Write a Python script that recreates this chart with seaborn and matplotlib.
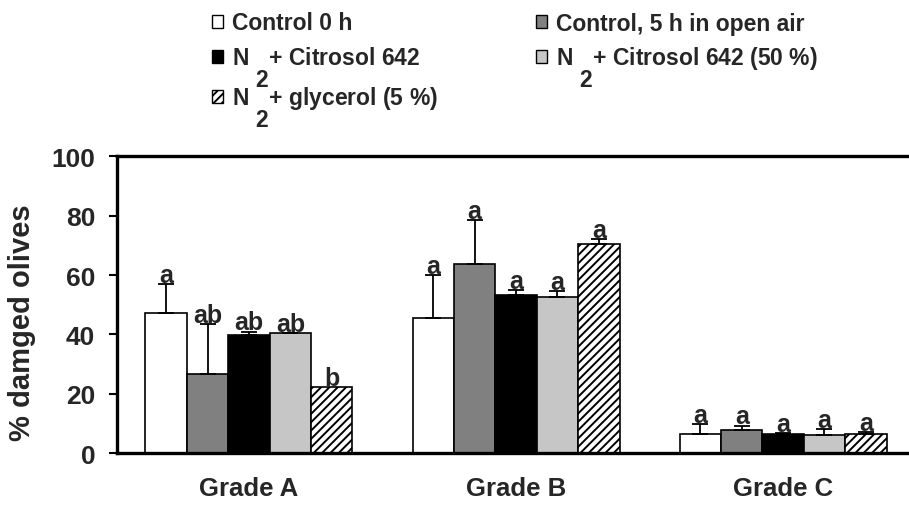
import matplotlib
matplotlib.use("Agg")
import matplotlib.pyplot as plt
import matplotlib.patches as mpatches
import seaborn as sns
import pandas as pd
import numpy as np

# ---- data ----
grades = ["Grade A", "Grade B", "Grade C"]
treatments = ["Control 0 h", "Control, 5 h in open air", "N2+ Citrosol 642",
              "N2+ Citrosol 642 (50 %)", "N2+ glycerol (5 %)"]
legend_labels = ["Control 0 h", "Control, 5 h in open air",
                 r"N $_{2}$+ Citrosol 642", r"N $_{2}$+ Citrosol 642 (50 %)",
                 r"N $_{2}$+ glycerol (5 %)"]
control_0h = [47.2, 45.5, 6.4]
control_5h = [26.7, 63.8, 8.0]
n2_citrosol = [39.7, 53.4, 6.6]
n2_citrosol50 = [40.4, 52.6, 6.1]
n2_glycerol = [22.3, 70.5, 6.4]
err_control_0h = [9.8, 14.5, 3.6]
err_control_5h = [16.9, 14.7, 1.4]
err_n2_citrosol = [1.3, 1.6, 0.2]
err_n2_citrosol50 = [0.2, 1.9, 2.2]
err_n2_glycerol = [0.0, 1.5, 0.7]
letters_control_0h = ["a", "a", "a"]
letters_control_5h = ["ab", "a", "a"]
letters_n2_citrosol = ["ab", "a", "a"]
letters_n2_citrosol50 = ["ab", "a", "a"]
letters_n2_glycerol = ["b", "a", "a"]
yticks = [0, 20, 40, 60, 80, 100]

values = [control_0h, control_5h, n2_citrosol, n2_citrosol50, n2_glycerol]
errors = [err_control_0h, err_control_5h, err_n2_citrosol, err_n2_citrosol50, err_n2_glycerol]
letters = [letters_control_0h, letters_control_5h, letters_n2_citrosol,
           letters_n2_citrosol50, letters_n2_glycerol]

df = pd.DataFrame({
    "grade": [g for t in treatments for g in grades],
    "treatment": [t for t in treatments for g in grades],
    "value": [v for vals in values for v in vals],
})

# ---- style ----
sns.set_style("white")
plt.rcParams["font.family"] = ["Liberation Sans", "DejaVu Sans"]
plt.rcParams["font.weight"] = "bold"
plt.rcParams["mathtext.fontset"] = "custom"
plt.rcParams["mathtext.rm"] = "Liberation Sans:bold"
plt.rcParams["mathtext.bf"] = "Liberation Sans:bold"
plt.rcParams["mathtext.default"] = "regular"
plt.rcParams["hatch.linewidth"] = 1.4

# full-size, low-set subscript as in the reference legend
try:
    import matplotlib._mathtext as _mt
    _mt.SHRINK_FACTOR = 1.0
    _mt.FontConstantsBase.sub1 = 1.7
except Exception:
    pass

faces = ["white", "#808080", "black", "#c6c6c6", "white"]
hatches = [None, None, None, None, "////"]

W, H = 909, 506
fig = plt.figure(figsize=(W / 100, H / 100), dpi=100)
ax = fig.add_axes([0.1284, 0.1018, 0.880, 0.5879])

sns.barplot(data=df, x="grade", y="value", hue="treatment", hue_order=treatments,
            order=grades, palette=faces, width=0.775, errorbar=None, legend=False,
            saturation=1, edgecolor="black", linewidth=1.2, ax=ax)

bars = [p for p in ax.patches]
for i, t in enumerate(treatments):
    for j in range(len(grades)):
        b = bars[i * len(grades) + j]
        if hatches[i]:
            b.set_hatch(hatches[i])
        xc = b.get_x() + b.get_width() / 2
        h = b.get_height()
        e = errors[i][j]
        if e > 0.05:
            ax.errorbar([xc], [h], yerr=[[0], [e]], fmt="none", ecolor="black",
                        elinewidth=1.3, capsize=5.5, capthick=1.3, zorder=1)
        ax.annotate(letters[i][j], (xc, h + e), xytext=(0, 1.5),
                    textcoords="offset points", ha="center", va="baseline",
                    fontsize=18, fontweight="bold")

ax.set_xlim(-0.495, 2.5)
ax.set_ylim(0, 100)
ax.set_yticks(yticks)
ax.set_xlabel("")
ax.set_ylabel("% damged olives", fontsize=21, fontweight="bold")
ax.yaxis.set_label_coords(-0.101, 0.444)
for s in ["left", "top", "bottom", "right"]:
    ax.spines[s].set_linewidth(2.4)
    ax.spines[s].set_color("black")
ax.tick_params(axis="y", direction="out", length=5.5, width=1.5, pad=10,
               labelsize=19, left=True, color="black")
ax.tick_params(axis="x", length=0, pad=16, labelsize=18.5)
for lab in ax.get_xticklabels() + ax.get_yticklabels():
    lab.set_fontweight("bold")

# ---- legend: one entry per slot, placed as in the reference ----
handles = [mpatches.Patch(facecolor=faces[i], edgecolor="black", linewidth=1.0,
                          hatch=hatches[i]) for i in range(len(treatments))]
slots = [(212, 12.5), (536, 12.5), (212, 46), (536, 46), (212, 86)]
for k in range(len(treatments)):
    x, y = slots[k]
    fig.legend([handles[k]], [legend_labels[k]], loc="upper left",
               bbox_to_anchor=(x / W, 1 - y / H), frameon=False,
               fontsize=16.5, handlelength=0.5, handleheight=0.5,
               handletextpad=0.37, borderpad=0.0, borderaxespad=0.0)

fig.savefig("out.png", dpi=100)
